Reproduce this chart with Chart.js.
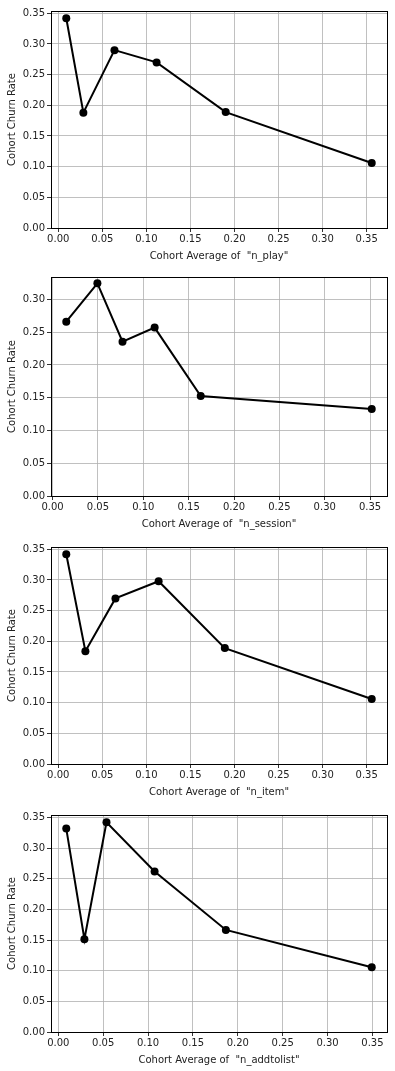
<!DOCTYPE html>
<html>
<head>
<meta charset="utf-8">
<script src="https://cdn.jsdelivr.net/npm/chart.js@4.4.1/dist/chart.umd.min.js"></script>
<style>
  body { margin: 0; background: #fff; }
  canvas { display: block; }
</style>
</head>
<body>
<canvas id="c0" width="395" height="268"></canvas>
<canvas id="c1" width="395" height="268"></canvas>
<canvas id="c2" width="395" height="268"></canvas>
<canvas id="c3" width="395" height="268"></canvas>
<script>
// feature names (one per panel)
var features = ['n_play', 'n_session', 'n_item', 'n_addtolist'];

// cohort average (x) and churn rate (y)
var playX = [0.0091, 0.0285, 0.0638, 0.1116, 0.190, 0.3557];
var playY = [0.342, 0.188, 0.290, 0.270, 0.189, 0.106];

var sessionX = [0.0151, 0.0494, 0.0771, 0.1125, 0.1633, 0.3518];
var sessionY = [0.266, 0.3246, 0.2355, 0.257, 0.1526, 0.1326];

var itemX = [0.0091, 0.0308, 0.0649, 0.1139, 0.189, 0.3557];
var itemY = [0.342, 0.184, 0.270, 0.298, 0.189, 0.106];

var addX = [0.0089, 0.0291, 0.0537, 0.1073, 0.1867, 0.3492];
var addY = [0.332, 0.1514, 0.3424, 0.262, 0.1666, 0.1058];

var xTicks = [0, 0.05, 0.10, 0.15, 0.20, 0.25, 0.30, 0.35];
var yTicks = [0, 0.05, 0.10, 0.15, 0.20, 0.25, 0.30, 0.35];

var allX = [playX, sessionX, itemX, addX];
var allY = [playY, sessionY, itemY, addY];
var topPad = [11, 9, 11, 11];

var font = { family: 'DejaVu Sans', size: 10 };

// matplotlib-like full box around the plot area
var frame = {
  id: 'frame',
  afterDatasetsDraw: function(chart) {
    var a = chart.chartArea, c = chart.ctx;
    c.save();
    c.strokeStyle = '#000';
    c.lineWidth = 1;
    c.strokeRect(Math.round(a.left) + 0.5, Math.round(a.top) + 0.5,
                 Math.round(a.right - a.left), Math.round(a.bottom - a.top));
    c.restore();
  }
};

function margin(arr) {
  var lo = Math.min.apply(null, arr), hi = Math.max.apply(null, arr);
  var m = (hi - lo) * 0.05;
  return [lo - m, hi + m];
}

for (var i = 0; i < 4; i++) {
  var xs = allX[i], ys = allY[i];
  var pts = [];
  for (var j = 0; j < xs.length; j++) pts.push({ x: xs[j], y: ys[j] });
  var xr = margin(xs), yr = margin(ys);

  new Chart(document.getElementById('c' + i), {
    type: 'line',
    data: {
      datasets: [{
        data: pts,
        borderColor: '#000',
        backgroundColor: '#000',
        borderWidth: 2,
        pointRadius: 4,
        pointBackgroundColor: '#000',
        pointBorderWidth: 0,
        tension: 0,
        clip: false
      }]
    },
    options: {
      responsive: false,
      animation: false,
      devicePixelRatio: 1,
      layout: { padding: { left: 0, right: 8, top: topPad[i], bottom: 0 } },
      plugins: { legend: { display: false }, tooltip: { enabled: false } },
      scales: {
        x: {
          type: 'linear',
          min: xr[0], max: xr[1],
          afterFit: function(s) { s.height = 40; },
          afterBuildTicks: function(s) {
            s.ticks = xTicks.filter(function(v) { return v >= s.min - 1e-9 && v <= s.max + 1e-9; })
                            .map(function(v) { return { value: v }; });
          },
          grid: { color: '#b0b0b0', lineWidth: 0.8, tickColor: '#000', tickLength: 4, drawTicks: true },
          border: { display: false },
          ticks: { font: font, color: '#222', padding: 1, maxRotation: 0,
                   callback: function(v) { return v.toFixed(2); } },
          title: { display: true, text: 'Cohort Average of  "' + features[i] + '"',
                   font: font, color: '#222', padding: { top: 0, bottom: 6 } }
        },
        y: {
          type: 'linear',
          min: 0, max: yr[1],
          afterFit: function(s) { s.width = 51; },
          afterBuildTicks: function(s) {
            s.ticks = yTicks.filter(function(v) { return v >= s.min - 1e-9 && v <= s.max + 1e-9; })
                            .map(function(v) { return { value: v }; });
          },
          grid: { color: '#b0b0b0', lineWidth: 0.8, tickColor: '#000', tickLength: 4, drawTicks: true },
          border: { display: false },
          ticks: { font: font, color: '#222', padding: 2,
                   callback: function(v) { return v.toFixed(2); } },
          title: { display: true, text: 'Cohort Churn Rate',
                   font: font, color: '#222', padding: { top: 6, bottom: 0 } }
        }
      }
    },
    plugins: [frame]
  });
}
</script>
</body>
</html>
